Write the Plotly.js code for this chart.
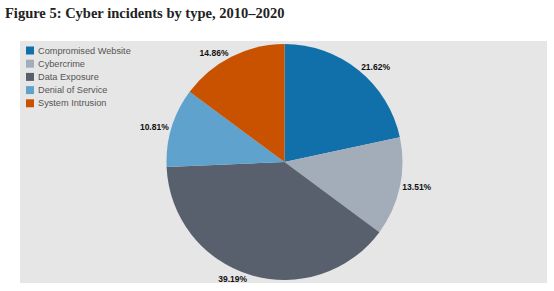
<!DOCTYPE html>
<html>
<head>
<meta charset="utf-8">
<script src="https://cdn.plot.ly/plotly-3.0.1.min.js"></script>
<style>html,body{margin:0;padding:0;background:#fff;}#chart{width:554px;height:291px;}</style>
</head>
<body>
<div id="chart"></div>
<script>
const categories = ["Compromised Website", "Cybercrime", "Data Exposure", "Denial of Service", "System Intrusion"];
const incidents = [16, 10, 29, 8, 11];
const colors = ["#1170aa", "#a3acb9", "#57606c", "#5fa2ce", "#c85200"];
const titleText = "Figure 5: Cyber incidents by type, 2010\u20132020";

const W = 554, H = 291;
const cx = 284.5, cy = 162, R = 118;

const legendRowsY = categories.map((c, i) => 50.5 + i * 13.2);
const annotations = categories.map((c, i) => ({
  text: c, xref: "paper", yref: "paper",
  x: 35.5 / W, xanchor: "left", y: 1 - legendRowsY[i] / H, yanchor: "middle",
  showarrow: false,
  font: {family: "Liberation Sans, Arial, sans-serif", size: 9.2, color: "#555555"}
}));
const shapes = [{
  type: "rect", xref: "paper", yref: "paper", layer: "below",
  x0: 20 / W, x1: 547 / W, y0: 1 - 283 / H, y1: 1 - 41 / H,
  fillcolor: "#e6e6e6", line: {width: 0}
}].concat(categories.map((c, i) => ({
  type: "rect", xref: "paper", yref: "paper",
  x0: 26 / W, x1: 34 / W, y0: 1 - (legendRowsY[i] + 4) / H, y1: 1 - (legendRowsY[i] - 4) / H,
  fillcolor: colors[i], line: {width: 0}
})));

const data = [{
  type: "pie",
  labels: categories,
  values: incidents,
  sort: false,
  direction: "clockwise",
  rotation: 0,
  marker: {colors: colors, line: {width: 0}},
  texttemplate: "%{percent:.2%}",
  textposition: "outside",
  outsidetextfont: {family: "Liberation Sans, Arial, sans-serif", size: 8.5, color: "#111111", weight: "bold"},
  hoverinfo: "label+percent",
  showlegend: false,
  domain: {x: [(cx - R) / W, (cx + R) / W], y: [(H - cy - R) / H, (H - cy + R) / H]}
}];

const layout = {
  width: W, height: H,
  margin: {l: 0, r: 0, t: 0, b: 0},
  paper_bgcolor: "#ffffff",
  showlegend: false,
  title: {
    text: "<b>" + titleText + "</b>",
    x: 5 / W, xanchor: "left", xref: "paper",
    y: 1 - 12.5 / H, yanchor: "middle", yref: "container",
    font: {family: "Liberation Serif, Times New Roman, serif", size: 14.5, color: "#222222"}
  },
  annotations: annotations,
  shapes: shapes
};

Plotly.newPlot("chart", data, layout, {displayModeBar: false, staticPlot: true});
</script>
</body>
</html>
